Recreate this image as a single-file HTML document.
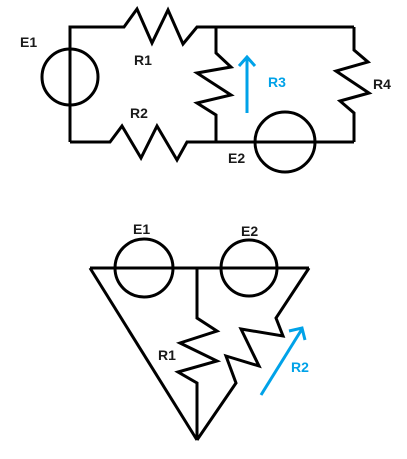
<!DOCTYPE html>
<html><head><meta charset="utf-8"><style>
html,body{margin:0;padding:0;background:#fff;width:407px;height:459px;overflow:hidden}
svg{display:block}
text{font-family:"Liberation Sans",Arial,sans-serif;font-weight:bold;font-size:14px}
</style></head><body>
<svg width="407" height="459" viewBox="0 0 407 459">
<g fill="none" stroke="#000" stroke-width="3" stroke-linejoin="miter">
 <g>
  <polyline points="70,142 70,27 124,27 137,9 152,43 168,10 183,44 197,27 354,27"/>
  <polyline points="70,142 110,142 122,126 141,158 157,126 177,160 187,142 354,142"/>
  <polyline points="216,27 216,53 231,67 197,73 231,95 197,103 216,115 216,142"/>
  <polyline points="354,27 354,50 368,62 336,71 369,93 340,101 354,113 354,142"/>
  <circle cx="70" cy="77" r="28"/>
  <circle cx="285" cy="142" r="30"/>
 </g>
 <g>
  <line x1="90" y1="268" x2="309" y2="268"/>
  <polyline points="90,268 197,440"/>
  <polyline points="309,268 276,318 283,336 241,329 259,366 226,356 236,383 197,440"/>
  <polyline points="197,268 197,318 217,331 180,343 217,361 178,372 197,383 197,440"/>
  <circle cx="144" cy="268" r="29"/>
  <circle cx="249" cy="268" r="28"/>
 </g>
</g>
<g stroke="#00a2e8" stroke-width="3" fill="none">
 <polyline points="247,113 247,58"/>
 <polyline points="239,66 247,57 255,66"/>
 <line x1="261" y1="395" x2="302" y2="329"/>
 <polyline points="289,331 302,328 305,340"/>
</g>
<g fill="#1a1a1a">
 <text x="20" y="47">E1</text>
 <text x="134" y="65">R1</text>
 <text x="130" y="118">R2</text>
 <text x="373" y="89">R4</text>
 <text x="228" y="163">E2</text>
 <text x="133" y="234">E1</text>
 <text x="241" y="236">E2</text>
 <text x="158" y="360">R1</text>
</g>
<g fill="#00a2e8">
 <text x="268" y="87">R3</text>
 <text x="291" y="372">R2</text>
</g>
</svg>
</body></html>
